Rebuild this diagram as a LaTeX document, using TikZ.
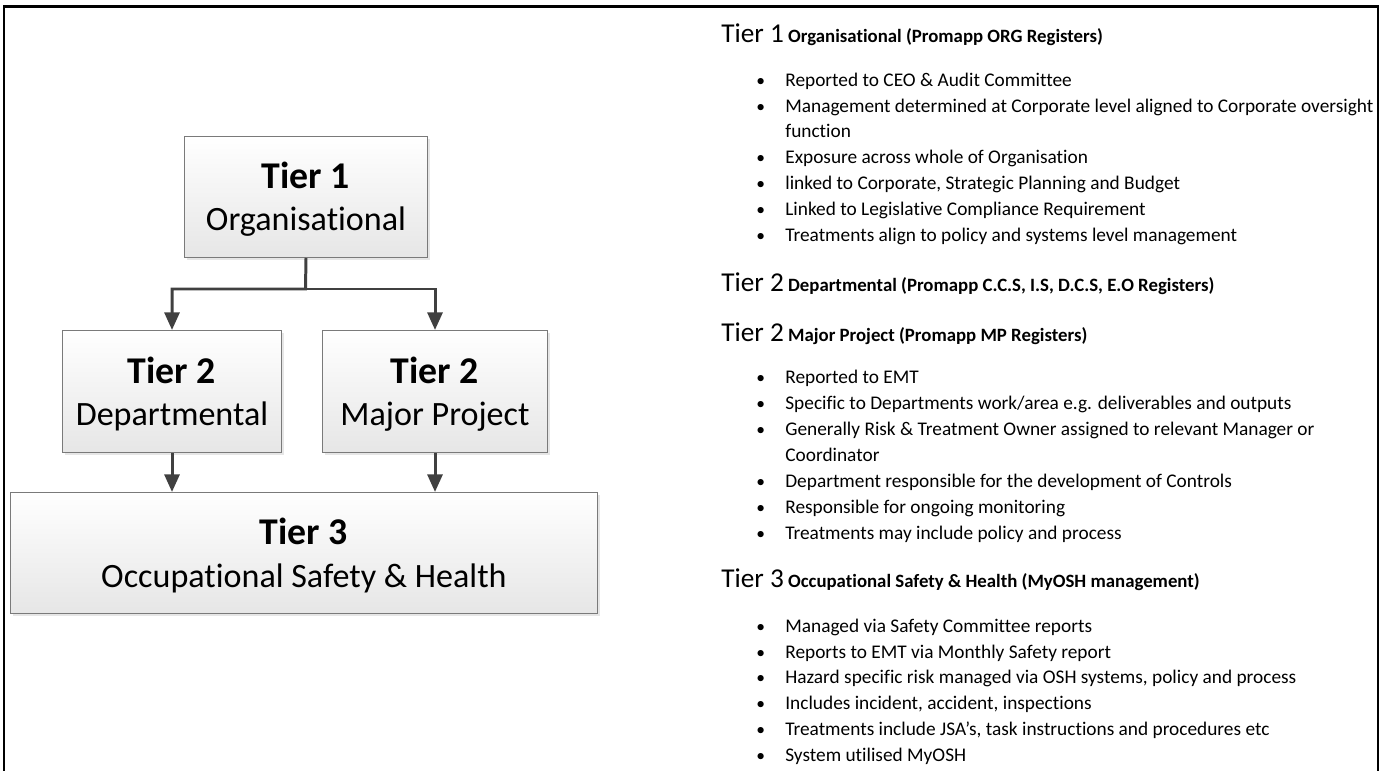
\documentclass[tikz,border=0pt]{standalone}
\usepackage{fontspec}
\setmainfont{Carlito}[Ligatures=NoCommon]
\usetikzlibrary{positioning,arrows.meta,shadows}

\definecolor{linkgray}{HTML}{404040}
\definecolor{edgegray}{HTML}{7A7A7A}
\definecolor{fillgray}{HTML}{E6E6E6}
\newcommand{\tiertag}[1]{{\fontsize{15.5}{18}\selectfont\mdseries #1}}
\newcommand{\boxtag}[1]{{\fontsize{21.5}{24}\selectfont\bfseries\rule{0pt}{18pt}#1}}

\begin{document}
\begin{tikzpicture}[x=0.02cm,y=-0.02cm,
    tierbox/.style={rectangle,draw=edgegray,line width=0.6pt,top color=white,bottom color=fillgray,
      align=center,inner sep=0pt,drop shadow={opacity=0.2,shadow xshift=1.6pt,shadow yshift=-1.6pt},
      font=\fontsize{19.4}{24}\selectfont},
    link/.style={draw=linkgray,line width=1.7pt,-{Triangle[length=10pt,width=8.5pt]}},
    heading/.style={anchor=base west,inner sep=0pt,font=\fontsize{10.7}{13}\selectfont\bfseries},
    item/.style={anchor=base west,inner sep=0pt,font=\fontsize{11}{13}\selectfont},
    dot/.style={anchor=base west,inner sep=0pt,font=\fontsize{10}{12}\selectfont}]
      \useasboundingbox (0,0) rectangle (1387,771);
      % frame
      \draw[line width=1.2pt] (4,771) -- (4,6.5) -- (1378,6.5) -- (1378,771);

      % main modules
      \node[tierbox,minimum width=4.86cm,minimum height=2.42cm,above right] (t1) at (184,258) {\boxtag{Tier 1}\\Organisational};
      \node[tierbox,minimum width=4.38cm,minimum height=2.44cm,above right] (dept) at (62,453) {\boxtag{Tier 2}\\Departmental};
      \node[tierbox,minimum width=4.5cm,minimum height=2.44cm,above right] (major) at (322,453) {\boxtag{Tier 2}\\Major Project};
      \node[tierbox,minimum width=11.74cm,minimum height=2.42cm,above right] (t3) at (10,614) {\boxtag{Tier 3}\\Occupational Safety \& Health};

      % links
      \coordinate (fork) at (305.5,289);
      \draw[link] (t1.south) -- (fork) -| (dept.north);
      \draw[link] (fork) -| (major.north);
      \draw[link] (dept.south) -- (dept.south |- t3.north);
      \draw[link] (major.south) -- (major.south |- t3.north);

      % tier 1 notes
      \node[heading] (h1) at (721,42) {\tiertag{Tier 1} Organisational (Promapp ORG Registers)};
      \foreach \yy/\txt [count=\k] in {86/{Reported to CEO \& Audit Committee},
          112/{Management determined at Corporate level aligned to Corporate oversight},
          137/{function},
          163/{Exposure across whole of Organisation},
          189/{linked to Corporate, Strategic Planning and Budget},
          215/{Linked to Legislative Compliance Requirement},
          241/{Treatments align to policy and systems level management}}
        \node[item] (a\k) at (785,\yy) {\txt};
      \foreach \yy in {86,112,163,189,215,241}
        \node[dot] (ad\yy) at (756,\yy) {•};

      % tier 2 notes
      \node[heading] (h2) at (721,291) {\tiertag{Tier 2} Departmental (Promapp C.C.S, I.S, D.C.S, E.O Registers)};
      \node[heading] (h2b) at (721,341) {\tiertag{Tier 2} Major Project (Promapp MP Registers)};
      \foreach \yy/\txt [count=\k] in {383/{Reported to EMT},
          409/{Specific to Departments work/area e.g. deliverables and outputs},
          435/{Generally Risk \& Treatment Owner assigned to relevant Manager or},
          461/{Coordinator},
          487/{Department responsible for the development of Controls},
          513/{Responsible for ongoing monitoring},
          539/{Treatments may include policy and process}}
        \node[item] (b\k) at (785,\yy) {\txt};
      \foreach \yy in {383,409,435,487,513,539}
        \node[dot] (bd\yy) at (756,\yy) {•};

      % tier 3 notes
      \node[heading] (h3) at (721,587) {\tiertag{Tier 3} Occupational Safety \& Health (MyOSH management)};
      \foreach \yy/\txt [count=\k] in {632/{Managed via Safety Committee reports},
          658/{Reports to EMT via Monthly Safety report},
          683/{Hazard specific risk managed via OSH systems, policy and process},
          709/{Includes incident, accident, inspections},
          735/{Treatments include JSA’s, task instructions and procedures etc},
          761/{System utilised MyOSH}}
        \node[item] (c\k) at (785,\yy) {\txt};
      \foreach \yy in {632,658,683,709,735,761}
        \node[dot] (cd\yy) at (756,\yy) {•};
\end{tikzpicture}
\end{document}
